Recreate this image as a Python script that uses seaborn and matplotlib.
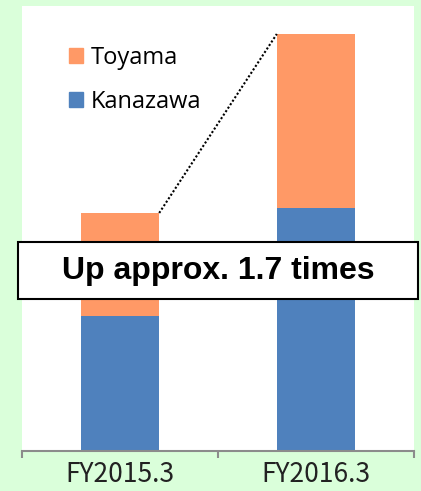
import matplotlib
matplotlib.use("Agg")
import matplotlib.pyplot as plt
from matplotlib.patches import Patch, Rectangle
import seaborn as sns
import pandas as pd

# Values
periods = ["FY2015.3", "FY2016.3"]
kanazawa = [135, 243]
toyama = [103, 174]
note = "Up approx. 1.7 times"

ORANGE = "#FF9966"
BLUE = "#4F81BD"
BG = "#DAFFDA"

sns.set_theme(style="white")
plt.rcParams["font.family"] = ["DejaVu Sans"]
plt.rcParams["text.color"] = "black"

W, H = 421, 491
fig = plt.figure(figsize=(W / 100, H / 100), dpi=100, facecolor=BG)
ax = fig.add_axes([22 / W, (H - 451) / H, (414 - 22) / W, (451 - 6) / H])
ax.set_facecolor("white")

df = pd.DataFrame({
    "period": periods,
    "Kanazawa": kanazawa,
    "Toyama": toyama,
})
df["total"] = df["Kanazawa"] + df["Toyama"]

sns.barplot(data=df, x="period", y="total", color=ORANGE, saturation=1,
            width=0.4, ax=ax, linewidth=0)
sns.barplot(data=df, x="period", y="Kanazawa", color=BLUE, saturation=1,
            width=0.4, ax=ax, linewidth=0)

ax.set_xlim(-0.5, 1.5)
ax.set_ylim(0, 445)
ax.set_xlabel("")
ax.set_ylabel("")
ax.set_yticks([])

for s in ["top", "left", "right"]:
    ax.spines[s].set_visible(False)
ax.spines["bottom"].set_color("#8C8C8C")
ax.spines["bottom"].set_linewidth(1.5)

# Category boundaries carry the tick marks; labels sit at the centres
ax.set_xticks([-0.5, 0.5, 1.5])
ax.set_xticklabels([])
ax.set_xticks([0, 1], minor=True)
ax.set_xticklabels(periods, minor=True, fontsize=19,
                   family=["Noto Sans CJK JP", "DejaVu Sans"], color="#222222")
ax.tick_params(axis="x", which="major", length=5, width=1.5, color="#8C8C8C",
               direction="out", bottom=True)
ax.tick_params(axis="x", which="minor", length=0, pad=7)

# Dotted connector between bar tops
ax.plot([0.2, 0.8], [df["total"][0], df["total"][1]], color="black",
        linestyle=(0, (1, 1)), linewidth=1.5, zorder=3)

# Legend
handles = [Patch(color=ORANGE, label="Toyama"), Patch(color=BLUE, label="Kanazawa")]
leg = ax.legend(handles=handles, loc="upper left", bbox_to_anchor=(0.12, 0.91),
                frameon=False, borderpad=0, borderaxespad=0,
                handlelength=0.6, handleheight=0.6,
                handletextpad=0.3, labelspacing=0.84,
                prop={"family": "Open Sans", "size": 17})
for t in leg.get_texts():
    t.set_color("black")

# Callout box
fig.add_artist(Rectangle((18 / W, (H - 299) / H), 400 / W, 57 / H,
                         transform=fig.transFigure, facecolor="white",
                         edgecolor="black", linewidth=1.5, zorder=5))
fig.text(218 / W, (H - 270.5) / H, note, ha="center", va="center", color="black",
         fontsize=23, fontweight="bold", family="Liberation Sans", zorder=6)

fig.savefig("out.png", dpi=100, facecolor=BG)
